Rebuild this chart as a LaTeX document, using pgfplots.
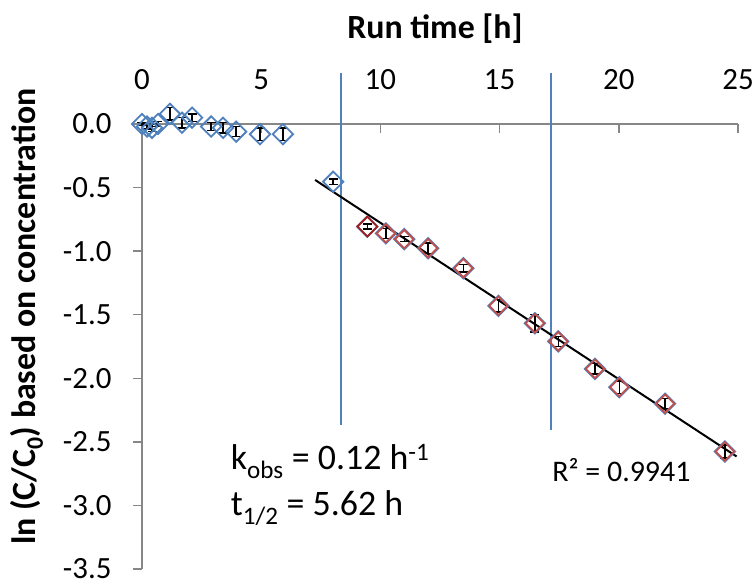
\documentclass[border=0pt]{standalone}
\usepackage{fontspec}
\setmainfont{Carlito}
\usepackage{pgfplots}
\usepackage{pgfplotstable}
\pgfplotsset{compat=1.18}

\definecolor{xlblue}{HTML}{4F81BD}
\definecolor{xlred}{HTML}{C0504D}
\definecolor{xldark}{HTML}{A01E1E}
\definecolor{axisgray}{HTML}{878787}

% run time [h], ln(C/C0), error
\pgfplotstableread{
t     y      e
0.00  0.00   0.01
0.21  -0.02  0.02
0.42  -0.03  0.03
0.67  0.00   0.02
1.17  0.08   0.05
1.68  0.01   0.04
2.10  0.05   0.03
2.90  -0.02  0.03
3.40  -0.03  0.04
3.95  -0.06  0.04
4.95  -0.08  0.05
5.91  -0.08  0.05
8.02  -0.454 0.02
9.45  -0.807 0.02
10.23 -0.86  0.04
11.00 -0.906 0.02
12.00 -0.977 0.04
13.48 -1.134 0.03
14.95 -1.43  0.05
16.48 -1.567 0.07
17.46 -1.71  0.04
19.00 -1.926 0.04
20.02 -2.07  0.05
21.94 -2.20  0.04
24.45 -2.576 0.05
}\alldata

\pgfplotstableread{
t     y      e
10.23 -0.86  0.04
11.00 -0.906 0.02
12.00 -0.977 0.04
13.48 -1.134 0.03
14.95 -1.43  0.05
16.48 -1.567 0.07
17.46 -1.71  0.04
19.00 -1.926 0.04
20.02 -2.07  0.05
21.94 -2.20  0.04
24.45 -2.576 0.05
}\fitdata

\begin{document}
\begin{tikzpicture}
\begin{axis}[
  scale only axis,
  width=596bp, height=445bp,
  at={(142bp,15bp)}, anchor=south west,
  xmin=0, xmax=25, ymin=-3.5, ymax=0,
  axis x line*=top, axis y line*=left,
  axis line style={draw=axisgray, line width=1.5bp},
  xtick={0,5,10,15,20,25},
  xticklabels={0,5,10,15,20,25},
  ytick={-3.5,-3,-2.5,-2,-1.5,-1,-0.5,0},
  yticklabels={-3.5,-3.0,-2.5,-2.0,-1.5,-1.0,-0.5,0.0},
  xtick align=inside, ytick align=outside,
  major tick length=9bp,
  tick style={draw=axisgray, line width=1.5bp},
  minor tick num=0,
  ticklabel style={font=\fontsize{31}{33}\selectfont},
  xticklabel style={yshift=31bp},
  yticklabel style={xshift=-18bp},
  xlabel={\textbf{Run time [h]}},
  xlabel style={font=\fontsize{34}{36}\selectfont, at={(rel axis cs:0.4916,1.193)}, anchor=base},
  ylabel={\textbf{ln (C/C\textsubscript{0}) based on concentration}},
  ylabel style={font=\fontsize{34}{36}\selectfont, at={(rel axis cs:-0.178,0.567)}, anchor=base, rotate=0},
  clip=false,
]
% separation lines
\addplot[xlblue, line width=2bp] coordinates {(8.35,0.40) (8.35,-2.37)};
\addplot[xlblue, line width=2bp] coordinates {(17.16,0.40) (17.16,-2.41)};
% trend line
\addplot[black, line width=2bp] coordinates {(7.26,-0.44) (24.94,-2.615)};
% all points
\addplot[only marks, mark=square, mark size=7.2bp,
  mark options={draw=xlblue, line width=1.8bp, rotate=45}]
  table[x=t, y=y] \alldata;
% fitted points
\addplot[only marks, mark=square, mark size=6.5bp,
  mark options={draw=xlred, line width=1.8bp, rotate=45}]
  table[x=t, y=y] \fitdata;
\addplot[only marks, mark=square, mark size=7bp,
  mark options={draw=xldark, line width=1.8bp, rotate=45}]
  coordinates {(9.45,-0.807)};
% error bars
\addplot[draw=none, mark=none,
  error bars/.cd, y dir=both, y explicit,
  error bar style={black, line width=1.4bp},
  error mark options={black, rotate=90, mark size=4.5bp, line width=1.4bp}]
  table[x=t, y=y, y error=e] \alldata;
% annotations
\node[anchor=base west, font=\fontsize{36}{38}\selectfont] at (axis cs:3.58,-2.72)
  {k\textsubscript{obs} = 0.12 h\textsuperscript{-1}};
\node[anchor=base west, font=\fontsize{36}{38}\selectfont] at (axis cs:3.58,-3.08)
  {t\textsubscript{1/2} = 5.62 h};
\node[anchor=base west, font=\fontsize{30}{32}\selectfont] at (axis cs:17.07,-2.815)
  {R² = 0.9941};
\end{axis}
\pgfresetboundingbox
\path[use as bounding box] (0,0) rectangle (756bp,584bp);
\end{tikzpicture}
\end{document}
